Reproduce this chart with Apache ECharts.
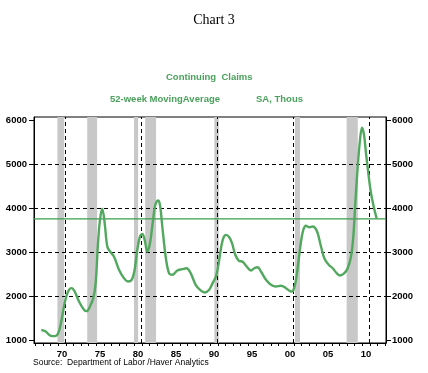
<!DOCTYPE html>
<html>
<head>
<meta charset="utf-8">
<script src="https://cdn.jsdelivr.net/npm/echarts@6/dist/echarts.min.js"></script>
<style>
html,body{margin:0;padding:0;background:#fff;}
#chart{width:428px;height:373px;}
</style>
</head>
<body>
<div id="chart"></div>
<script>
// ---- Data (decimal year, thousands) ----
const dates = [1967.78,1968.36,1968.8,1969.22,1969.8,1970.1,1970.41,1970.76,1971.07,1971.42,1971.78,1972.17,1972.74,1973.4,1973.75,1974.18,1974.62,1974.93,1975.24,1975.5,1975.8,1976.12,1976.46,1976.82,1977.34,1978.0,1978.66,1979.18,1979.67,1980.06,1980.41,1980.76,1981.07,1981.38,1981.72,1982.08,1982.43,1982.78,1983.13,1983.39,1983.7,1984.14,1984.58,1985.01,1985.67,1986.33,1986.9,1987.43,1988.09,1988.75,1989.28,1989.84,1990.3,1990.76,1991.12,1991.42,1991.72,1992.08,1992.51,1992.87,1993.3,1993.75,1994.28,1994.8,1995.37,1995.8,1996.25,1996.68,1997.34,1998.0,1998.66,1999.32,1999.97,2000.63,2000.93,2001.29,2001.64,2001.95,2002.25,2002.6,2003.04,2003.49,2003.83,2004.14,2004.58,2005.01,2005.59,2006.12,2006.64,2007.08,2007.65,2008.09,2008.53,2008.83,2009.09,2009.41,2009.71,2009.97,2010.24,2010.5,2010.86,2011.16,2011.51,2011.91];
const claims = [1230,1198,1123,1091,1107,1198,1425,1766,1993,2145,2182,2107,1880,1691,1659,1766,1955,2295,3205,3736,3990,3659,3130,3016,2902,2600,2409,2334,2372,2600,3055,3357,3418,3282,3016,3205,3659,4077,4175,4077,3584,2902,2523,2486,2584,2614,2636,2523,2259,2130,2084,2140,2290,2448,2750,3091,3318,3395,3341,3205,2941,2811,2782,2675,2584,2636,2659,2561,2372,2259,2220,2236,2182,2107,2130,2372,2827,3243,3509,3600,3568,3584,3545,3432,3130,2864,2714,2636,2523,2470,2523,2636,2902,3357,4114,4948,5555,5830,5668,5250,4720,4341,4039,3760];
const recessionStart = [1969.9,1973.82,1979.98,1981.45,1990.55,2001.16,2007.95];
const recessionEnd   = [1970.8,1975.12,1980.52,1982.88,1991.12,2001.82,2009.42];
const gridYears = [1970.95,1980.95,1990.95,2000.95,2010.95];
const gridLevels = [2000,3000,4000,5000];
const latestLevel = 3760;
const yTicks = [1000,2000,3000,4000,5000,6000];
const xLabelYears = [1970.5,1975.5,1980.5,1985.5,1990.5,1995.5,2000.5,2005.5,2010.5];
const xTickYears = [1967,1968,1969,1970,1971,1972,1973,1974,1975,1976,1977,1978,1979,1980,1981,1982,1983,1984,1985,1986,1987,1988,1989,1990,1991,1992,1993,1994,1995,1996,1997,1998,1999,2000,2001,2002,2003,2004,2005,2006,2007,2008,2009,2010,2011,2012,2013];

const X_MIN = 1966.82, X_MAX = 2013.13;
const GREEN = '#52a85e';
const TXTGREEN = '#4aa05c';

const chart = echarts.init(document.getElementById('chart'), null, {renderer:'canvas'});

const yAxisBase = {
  type:'value', min:935, max:6075,
  splitLine:{show:false},
  axisLine:{show:true, lineStyle:{color:'#000', width:1}},
  axisTick:{show:true, customValues:yTicks, length:5, inside:false, lineStyle:{color:'#000'}},
  axisLabel:{customValues:yTicks, color:'#000', fontFamily:'Liberation Sans, Arial', fontWeight:'bold', fontSize:9.5,
    formatter:function(v){ return String(Math.round(v)); }}
};

const option = {
  animation:false,
  backgroundColor:'#fff',
  graphic:[
    {type:'text', left:'center', top:13, style:{text:'Chart 3', font:'14px "Liberation Serif", "Times New Roman", serif', fill:'#000'}},
    {type:'text', left:166, top:72, style:{text:'Continuing  Claims', font:'bold 9.5px "Liberation Sans", Arial, sans-serif', fill:TXTGREEN}},
    {type:'text', left:110, top:94, style:{text:'52-week MovingAverage', font:'bold 9.5px "Liberation Sans", Arial, sans-serif', fill:TXTGREEN}},
    {type:'text', left:256, top:94, style:{text:'SA, Thous', font:'bold 9.5px "Liberation Sans", Arial, sans-serif', fill:TXTGREEN}},
    {type:'text', left:33, top:358, style:{text:'Source:  Department of Labor /Haver Analytics', font:'8.5px "Liberation Sans", Arial, sans-serif', fill:'#000'}}
  ],
  grid:{left:34, right:42, top:117, bottom:30, show:true, borderColor:'#000', borderWidth:1, backgroundColor:'transparent'},
  xAxis:{
    type:'value', min:X_MIN, max:X_MAX,
    splitLine:{show:false},
    axisLine:{show:true, lineStyle:{color:'#000', width:1}},
    axisTick:{show:true, customValues:xTickYears, length:3, lineStyle:{color:'#000'}},
    axisLabel:{customValues:xLabelYears, margin:6, color:'#000', fontFamily:'Liberation Sans, Arial', fontWeight:'bold', fontSize:9.5,
      formatter:function(v){ const y = Math.floor(v) % 100; return (y<10?'0':'')+y; }}
  },
  yAxis:[
    Object.assign({}, yAxisBase, {position:'left', axisLabel:Object.assign({}, yAxisBase.axisLabel, {margin:7})}),
    Object.assign({}, yAxisBase, {position:'right', axisLabel:Object.assign({}, yAxisBase.axisLabel, {margin:6})})
  ],
  series:[
    {
      name:'recessions', type:'line', data:[], silent:true, z:1,
      markArea:{silent:true, itemStyle:{color:'#c8c8c8', opacity:1, borderWidth:0},
        data: recessionStart.map((s,i)=>[{xAxis:s},{xAxis:recessionEnd[i]}])}
    },
    {
      name:'grid', type:'line', data:[], silent:true, z:2,
      markLine:{silent:true, symbol:'none', label:{show:false},
        lineStyle:{color:'#000', type:[4,3], width:1},
        data: gridLevels.map(v=>({yAxis:v})).concat(gridYears.map(v=>({xAxis:v})))}
    },
    {
      name:'latest', type:'line', z:3, silent:true,
      data:[[X_MIN, latestLevel],[X_MAX, latestLevel]],
      showSymbol:false, symbol:'none',
      itemStyle:{color:'#3a9c4c'},
      lineStyle:{color:'#3a9c4c', width:1.2}
    },
    {
      name:'Continuing Claims', type:'line', z:5,
      data: dates.map((d,i)=>[d, claims[i]]),
      showSymbol:false, smooth:0.35,
      lineStyle:{color:GREEN, width:2.4}
    }
  ]
};
chart.setOption(option);
</script>
</body>
</html>
